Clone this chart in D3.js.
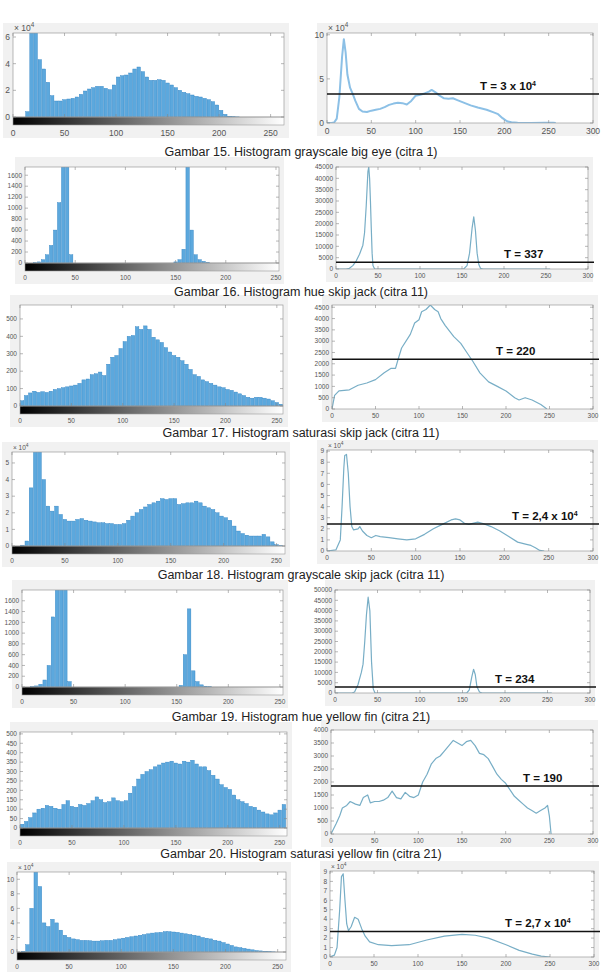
<!DOCTYPE html>
<html>
<head>
<meta charset="utf-8">
<script src="https://cdn.jsdelivr.net/npm/d3@7"></script>
<style>
  body { margin: 0; background: #fff; }
  svg { display: block; }
</style>
</head>
<body>
<svg width="603" height="972"></svg>
<script>
// bin starts for the imhist panels (bins of 4 grey levels)
var binsX = [0,4,8,12,16,20,24,28,32,36,40,44,48,52,56,60,64,68,72,76,80,84,88,92,96,100,104,108,112,116,120,124,
  128,132,136,140,144,148,152,156,160,164,168,172,176,180,184,188,192,196,200,204,208,212,216,220,224,228,232,236,240,244,248,252];

// Gambar 15 - grayscale big eye (x 10^4)
var grayBigEyeHist = [0,0,0,0.4,7,8,4.3,3.6,2.6,1.6,1.2,1.2,1.3,1.35,1.4,1.5,1.7,1.95,2.1,2.2,2.3,2.3,2.15,2.05,2.4,3.0,3.1,3.15,3.3,3.6,3.75,3.4,
  3.0,2.75,2.75,2.8,2.75,2.55,2.4,2.2,2.0,1.85,1.75,1.65,1.55,1.5,1.4,1.3,1.15,0.9,0.5,0.2,0.06,0.03,0.01,0,0,0,0,0,0,0,0,0];
var grayBigEyeLineX = [0,5,8,11,14,17,19,21,23,26,29,32,36,40,45,50,55,60,65,70,75,80,85,90,95,100,105,110,115,118,122,127,132,137,142,147,152,157,162,170,180,188,193,198,203,208,215,230,245,255,258];
var grayBigEyeLine = [0,0,0.05,0.5,3,7.5,9.5,8,5.5,4,3.3,2.5,1.6,1.3,1.25,1.4,1.5,1.6,1.8,2.05,2.2,2.3,2.25,2.1,2.5,3.1,3.2,3.35,3.55,3.75,3.5,3.1,2.8,2.75,2.8,2.6,2.4,2.2,2.0,1.75,1.5,1.2,1.0,0.55,0.2,0.08,0.02,0,0.03,0.03,0];

// Gambar 16 - hue skip jack
var hueSkipHist = [0,0,5,20,60,150,320,600,1100,3000,2800,150,0,0,0,0,0,0,0,0,0,0,0,0,0,0,0,0,0,0,0,0,
  0,0,0,0,0,20,60,250,3000,600,150,60,30,10,0,0,0,0,0,0,0,0,0,0,0,0,0,0,0,0,0,0];
var hueSkipLineX = [0,12,16,20,24,28,32,34,36,38,39,40,41,42,43,44,46,152,156,159,162,164,166,168,170,172,175,255];
var hueSkipLine = [0,0,300,1500,3500,6500,10500,16000,28000,43000,45000,40000,30000,18000,7000,1500,0,0,1500,7000,18000,23000,17000,7000,2000,300,0,0];

// Gambar 17 - saturasi skip jack
var satSkipHist = [30,60,75,85,78,82,78,85,95,100,105,110,115,120,130,150,155,180,185,195,175,240,280,290,330,370,400,405,455,440,460,440,
  395,380,365,335,310,290,280,260,240,210,180,170,150,140,130,120,110,105,95,90,80,70,60,50,45,50,50,45,40,30,20,10];
var satSkipLineX = [0,3,8,20,30,40,50,60,68,73,76,80,90,95,100,103,108,113,118,122,125,130,140,148,155,162,170,180,190,200,210,215,222,230,240,247];
var satSkipLine = [0,600,800,850,1050,1150,1300,1600,1800,1800,2200,2700,3300,3800,3950,4300,4400,4600,4400,4300,4000,3700,3200,2900,2500,2100,1600,1200,1000,800,500,400,500,400,200,0];

// Gambar 18 - grayscale skip jack (x 10^4)
var graySkipHist = [0,0,0.05,0.3,3.5,7,7,4,2.4,2.1,2.4,1.9,1.6,1.5,1.5,1.6,1.65,1.55,1.5,1.45,1.4,1.4,1.35,1.35,1.3,1.3,1.35,1.55,1.8,2.0,2.2,2.35,
  2.5,2.6,2.7,2.85,2.8,2.85,2.85,2.5,2.55,2.6,2.6,2.7,2.6,2.4,2.3,2.2,2.0,1.8,1.7,1.55,1.2,0.9,0.75,0.65,0.6,0.6,0.6,0.7,0.55,0.25,0.08,0.02];
var graySkipLineX = [0,10,15,17,19,20,22,24,26,28,30,35,37,40,45,50,55,60,70,80,90,100,110,120,130,140,145,150,155,160,170,175,185,195,205,215,225,230,235,240,245];
var graySkipLine = [0,0.1,1,4,7.5,8.6,8.7,7,4,2.2,1.9,2,2.2,1.8,1.4,1.2,1.4,1.3,1.2,1.1,1.0,1.1,1.5,2.0,2.4,2.8,2.9,2.8,2.5,2.4,2.6,2.5,2.2,1.8,1.3,0.8,0.6,0.5,0.3,0.05,0];

// Gambar 19 - hue yellow fin
var hueYellowHist = [0,0,5,20,50,130,400,1300,3000,3000,2500,100,0,0,0,0,0,0,0,0,0,0,0,0,0,0,0,0,0,0,0,0,
  0,0,0,0,0,0,30,600,1450,300,100,40,15,5,0,0,0,0,0,0,0,0,0,0,0,0,0,0,0,0,0,0];
var hueYellowLineX = [0,20,23,27,31,33,35,37,39,41,43,45,47,155,158,161,163,165,167,170,173,255];
var hueYellowLine = [0,0,500,4000,10000,14000,25000,38000,46500,40000,15000,2000,0,0,1500,8000,11500,9000,3000,500,0,0];

// Gambar 20 - saturasi yellow fin
var satYellowHist = [20,35,55,80,100,105,120,115,105,100,125,145,115,110,125,120,130,145,165,150,135,140,160,145,140,145,185,220,260,285,300,310,
  325,335,345,350,355,345,340,355,350,360,340,325,325,305,280,260,230,215,205,175,150,140,130,115,110,95,85,75,70,80,95,125];
var satYellowLineX = [0,3,6,10,13,18,22,28,33,37,42,45,50,55,60,65,70,75,80,85,90,95,100,105,110,115,120,125,130,135,140,145,150,155,160,165,170,175,180,185,190,195,200,205,210,215,220,225,230,235,240,245,248,250,252];
var satYellowLine = [0,200,400,700,1000,1100,1250,1150,1100,1400,1500,1200,1250,1250,1300,1400,1650,1400,1350,1600,1450,1400,1500,2000,2300,2700,2900,3000,3200,3400,3600,3500,3400,3550,3600,3400,3100,3050,2900,2600,2300,2100,1950,1700,1450,1300,1150,1000,900,800,900,1000,1100,700,0];

// Gambar 21 - grayscale yellow fin (x 10^4)
var grayYellowHist = [0,0.1,1,6,12,9,4,3.5,4.5,4,3,2.3,2.0,1.8,1.7,1.6,1.6,1.55,1.5,1.5,1.55,1.6,1.6,1.7,1.8,1.9,2.0,2.1,2.2,2.3,2.4,2.5,
  2.6,2.65,2.7,2.8,2.8,2.75,2.7,2.6,2.5,2.4,2.3,2.2,2.0,1.9,1.8,1.6,1.5,1.3,1.1,0.9,0.7,0.6,0.5,0.4,0.3,0.2,0.15,0.1,0.05,0.02,0,0];
var grayYellowLineX = [0,5,8,11,13,15,17,19,21,24,28,32,36,40,45,55,70,90,110,130,150,165,180,200,215,230,240,250];
var grayYellowLine = [0,0.2,1,5,8.5,8.8,6,3.5,2.8,3.2,4.2,4.0,3,2.2,1.6,1.3,1.2,1.3,1.8,2.2,2.4,2.3,2.0,1.3,0.7,0.3,0.1,0];

var leftTicksX = [0,50,100,150,200,250];
var rightTicksX = [0,50,100,150,200,250,300];

var captions = [
  "Gambar 15. Histogram grayscale big eye (citra 1)",
  "Gambar 16. Histogram hue skip jack (citra 11)",
  "Gambar 17. Histogram saturasi skip jack (citra 11)",
  "Gambar 18. Histogram grayscale skip jack (citra 11)",
  "Gambar 19. Histogram hue yellow fin (citra 21)",
  "Gambar 20. Histogram saturasi yellow fin (citra 21)"
];
var captionY = [156, 296, 437, 579, 721, 858];

// layout of every panel (pixel boxes) + which series goes in it
var panels = [
  {kind: "hist", v: grayBigEyeHist, l: 13, t: 33, r: 284, b: 117, xmax: 263, ymax: 6.3, yt: [0,2,4,6], exp: true, fs: 8.5},
  {kind: "line", x: grayBigEyeLineX, v: grayBigEyeLine, l: 327, t: 33, r: 593, b: 123, ymax: 10.2, yt: [0,5,10], exp: true, fs: 8.5, th: 3.3, tl: ["T = 3 x 10", "4"], tx: 480, lw: 2},
  {kind: "hist", v: hueSkipHist, l: 25, t: 167, r: 279, b: 263, xmax: 253, ymax: 1750, yt: [0,200,400,600,800,1000,1200,1400,1600]},
  {kind: "line", x: hueSkipLineX, v: hueSkipLine, l: 336, t: 167, r: 588, b: 269, ymax: 45000, yt: [0,5000,10000,15000,20000,25000,30000,35000,40000,45000], th: 3000, tl: ["T = 337"], tx: 504},
  {kind: "hist", v: satSkipHist, l: 20, t: 305, r: 283, b: 406, xmax: 256, ymax: 580, yt: [0,100,200,300,400,500]},
  {kind: "line", x: satSkipLineX, v: satSkipLine, l: 332, t: 305, r: 593, b: 409, ymax: 4600, yt: [0,500,1000,1500,2000,2500,3000,3500,4000,4500], th: 2200, tl: ["T = 220"], tx: 496},
  {kind: "hist", v: graySkipHist, l: 12, t: 452, r: 285, b: 546, xmax: 258, ymax: 5.66, yt: [0,1,2,3,4,5], exp: true},
  {kind: "line", x: graySkipLineX, v: graySkipLine, l: 327, t: 450, r: 593, b: 551, ymax: 9.1, yt: [0,1,2,3,4,5,6,7,8,9], exp: true, th: 2.43, tl: ["T = 2,4  x 10", "4"], tx: 512},
  {kind: "hist", v: hueYellowHist, l: 22, t: 590, r: 283, b: 687, xmax: 253, ymax: 1800, yt: [0,200,400,600,800,1000,1200,1400,1600]},
  {kind: "line", x: hueYellowLineX, v: hueYellowLine, l: 335, t: 590, r: 590, b: 693, ymax: 50000, yt: [0,5000,10000,15000,20000,25000,30000,35000,40000,45000,50000], th: 2900, tl: ["T = 234"], tx: 495},
  {kind: "hist", v: satYellowHist, l: 20, t: 732, r: 287, b: 828, xmax: 257, ymax: 510, yt: [0,50,100,150,200,250,300,350,400,450,500]},
  {kind: "line", x: satYellowLineX, v: satYellowLine, l: 331, t: 730, r: 593, b: 834, ymax: 4000, yt: [0,500,1000,1500,2000,2500,3000,3500,4000], th: 1850, tl: ["T = 190"], tx: 523},
  {kind: "hist", v: grayYellowHist, l: 17, t: 872, r: 286, b: 952, xmax: 258, ymax: 11, yt: [0,2,4,6,8,10], exp: true},
  {kind: "line", x: grayYellowLineX, v: grayYellowLine, l: 330, t: 871, r: 594, b: 957, ymax: 9.1, yt: [0,1,2,3,4,5,6,7,8,9], exp: true, th: 2.7, tl: ["T = 2,7 x 10", "4"], tx: 505}
];

var svg = d3.select("svg");
var defs = svg.append("defs");
var grad = defs.append("linearGradient").attr("id", "greyramp");
grad.append("stop").attr("offset", "0%").attr("stop-color", "#000");
grad.append("stop").attr("offset", "100%").attr("stop-color", "#fff");

panels.forEach(function(p, i) {
  var fs = p.fs || 6.5;
  var isHist = p.kind == "hist";
  var x = d3.scaleLinear().domain([0, isHist ? p.xmax : 300]).range([p.l, p.r]);
  var y = d3.scaleLinear().domain([0, p.ymax]).range([p.b, p.t]);
  var g = svg.append("g");
  var bottom = p.b + (isHist ? 8 : 0);

  // grey figure background
  g.append("rect").attr("x", p.l - 10).attr("y", p.t - 10)
    .attr("width", p.r - p.l + 15).attr("height", Math.min(bottom - p.t + 23, 972 - p.t + 10))
    .attr("fill", "#f1f1f1");
  g.append("rect").attr("x", p.l).attr("y", p.t)
    .attr("width", p.r - p.l).attr("height", p.b - p.t).attr("fill", "#fff");

  defs.append("clipPath").attr("id", "clip" + i).append("rect")
    .attr("x", p.l).attr("y", p.t).attr("width", p.r - p.l).attr("height", p.b - p.t);
  var plot = g.append("g").attr("clip-path", "url(#clip" + i + ")");

  if (isHist) {
    plot.selectAll("rect.bar").data(p.v).enter().append("rect")
      .attr("class", "bar")
      .attr("x", function(d, j) { return x(binsX[j]) + 0.3; })
      .attr("width", function(d, j) { return x(binsX[j] + 4) - x(binsX[j]) - 0.6; })
      .attr("y", function(d) { return y(d); })
      .attr("height", function(d) { return p.b - y(d); })
      .attr("fill", "#5ca8dd")
      .attr("stroke", "#2f82c2")
      .attr("stroke-width", 0.4);
    // grey level colour bar under the histogram
    g.append("rect").attr("x", p.l).attr("y", p.b).attr("width", p.r - p.l).attr("height", 8)
      .attr("fill", "url(#greyramp)").attr("stroke", "#999").attr("stroke-width", 0.6);
  } else {
    var line = d3.line()
      .x(function(d, j) { return x(p.x[j]); })
      .y(function(d) { return y(d); });
    plot.append("path").datum(p.v)
      .attr("fill", "none")
      .attr("stroke", p.lw ? "#8cc0e6" : "#78aec6")
      .attr("stroke-width", p.lw || 1.2)
      .attr("stroke-linejoin", "round")
      .attr("d", line);
  }

  // axes box
  g.append("rect").attr("x", p.l).attr("y", p.t)
    .attr("width", p.r - p.l).attr("height", p.b - p.t)
    .attr("fill", "none").attr("stroke", "#9a9a9a").attr("stroke-width", 0.7);

  var xt = isHist ? leftTicksX : rightTicksX;
  xt.forEach(function(v) {
    g.append("line").attr("x1", x(v)).attr("x2", x(v)).attr("y1", p.t).attr("y2", p.t + 3)
      .attr("stroke", "#888").attr("stroke-width", 0.6);
    g.append("line").attr("x1", x(v)).attr("x2", x(v)).attr("y1", p.b).attr("y2", p.b - 3)
      .attr("stroke", "#888").attr("stroke-width", 0.6);
    g.append("text").attr("x", x(v)).attr("y", bottom + fs + 2)
      .attr("text-anchor", "middle").attr("font-size", fs)
      .attr("font-family", "Liberation Sans, Arial, sans-serif").attr("fill", "#555")
      .text(v);
  });
  p.yt.forEach(function(v) {
    g.append("line").attr("x1", p.l).attr("x2", p.l + 3).attr("y1", y(v)).attr("y2", y(v))
      .attr("stroke", "#888").attr("stroke-width", 0.6);
    g.append("line").attr("x1", p.r).attr("x2", p.r - 3).attr("y1", y(v)).attr("y2", y(v))
      .attr("stroke", "#888").attr("stroke-width", 0.6);
    g.append("text").attr("x", p.l - 3).attr("y", y(v) + fs * 0.35)
      .attr("text-anchor", "end").attr("font-size", fs)
      .attr("font-family", "Liberation Sans, Arial, sans-serif").attr("fill", "#555")
      .text(v);
  });

  if (p.exp) {
    var e = g.append("text").attr("x", p.l + 1).attr("y", p.t - 2)
      .attr("font-size", fs).attr("font-family", "Liberation Sans, Arial, sans-serif").attr("fill", "#555");
    e.append("tspan").text("\u00d7 10");
    e.append("tspan").attr("dy", -fs * 0.45).attr("font-size", fs * 0.75).text("4");
  }

  if (p.th != null) {
    g.append("line").attr("x1", p.l).attr("x2", p.r + 6).attr("y1", y(p.th)).attr("y2", y(p.th))
      .attr("stroke", "#111").attr("stroke-width", 1.5);
    var t = g.append("text").attr("x", p.tx).attr("y", y(p.th) - 4)
      .attr("font-size", 11.5).attr("font-weight", "bold")
      .attr("font-family", "Liberation Sans Narrow, Liberation Sans, Arial, sans-serif").attr("fill", "#111");
    t.append("tspan").text(p.tl[0]);
    if (p.tl[1]) t.append("tspan").attr("dy", -4).attr("font-size", 7).text(p.tl[1]);
  }
});

svg.selectAll("text.caption").data(captions).enter().append("text")
  .attr("class", "caption")
  .attr("x", 301)
  .attr("y", function(d, i) { return captionY[i]; })
  .attr("text-anchor", "middle")
  .attr("font-size", 12.5)
  .attr("font-family", "Liberation Sans, Arial, sans-serif")
  .attr("fill", "#222")
  .text(function(d) { return d; });
</script>
</body>
</html>
